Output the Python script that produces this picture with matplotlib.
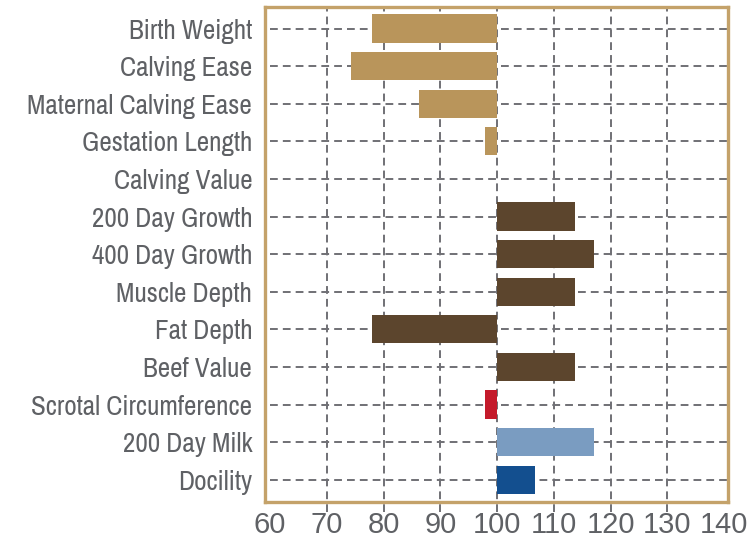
import matplotlib
matplotlib.use('Agg')
import matplotlib.pyplot as plt

traits = ['Birth Weight', 'Calving Ease', 'Maternal Calving Ease', 'Gestation Length',
          'Calving Value', '200 Day Growth', '400 Day Growth', 'Muscle Depth',
          'Fat Depth', 'Beef Value', 'Scrotal Circumference', '200 Day Milk', 'Docility']
# index value for each trait, bars run from the 100 baseline
values = [78.0, 74.3, 86.2, 97.8, 100.0, 113.7, 117.0, 113.7, 78.0, 113.7, 97.8, 117.0, 106.7]
bar_colors = ['#B9955B', '#B9955B', '#B9955B', '#B9955B', '#B9955B',
              '#5C452D', '#5C452D', '#5C452D', '#5C452D', '#5C452D',
              '#C41A2B', '#7A9CC1', '#134F8F']
xticks = [60, 70, 80, 90, 100, 110, 120, 130, 140]
baseline = 100

plt.rcParams['font.family'] = ['Archivo Narrow', 'PT Sans Narrow', 'Open Sans Condensed', 'DejaVu Sans']

text_col = '#5F6165'
frame_col = '#C4A26A'
grid_col = '#707075'

fig = plt.figure(figsize=(7.54, 5.44), dpi=100)
ax = fig.add_axes([0.351, 0.078, 0.615, 0.909])

ypos = list(range(len(traits)))
for y in ypos:
    ax.plot([60, 141], [y, y], ls=(0, (4, 2.6)), color=grid_col, lw=1.4, zorder=1)
for x in xticks[1:-1]:
    ax.axvline(x, ymin=-0.022, ymax=1, ls=(0, (4, 2.6)), color=grid_col, lw=1.4,
               clip_on=False, zorder=1)

ax.barh(ypos, [v - baseline for v in values], left=baseline, height=0.75,
        color=bar_colors, zorder=2)

ax.set_xlim(59.05, 140.75)
ax.set_ylim(len(traits) - 0.42, -0.57)
ax.set_xticks(xticks)
ax.set_xticklabels([str(t) for t in xticks], family=['Liberation Sans', 'DejaVu Sans'])
ax.set_yticks(ypos)
ax.set_yticklabels(traits)
ax.tick_params(axis='y', length=0, pad=9, labelsize=19.5, labelcolor=text_col)
ax.tick_params(axis='x', length=0, pad=7, labelsize=21, labelcolor=text_col)
for s in ax.spines.values():
    s.set_color(frame_col)
    s.set_linewidth(2.4)

fig.savefig('out.png', dpi=100)
